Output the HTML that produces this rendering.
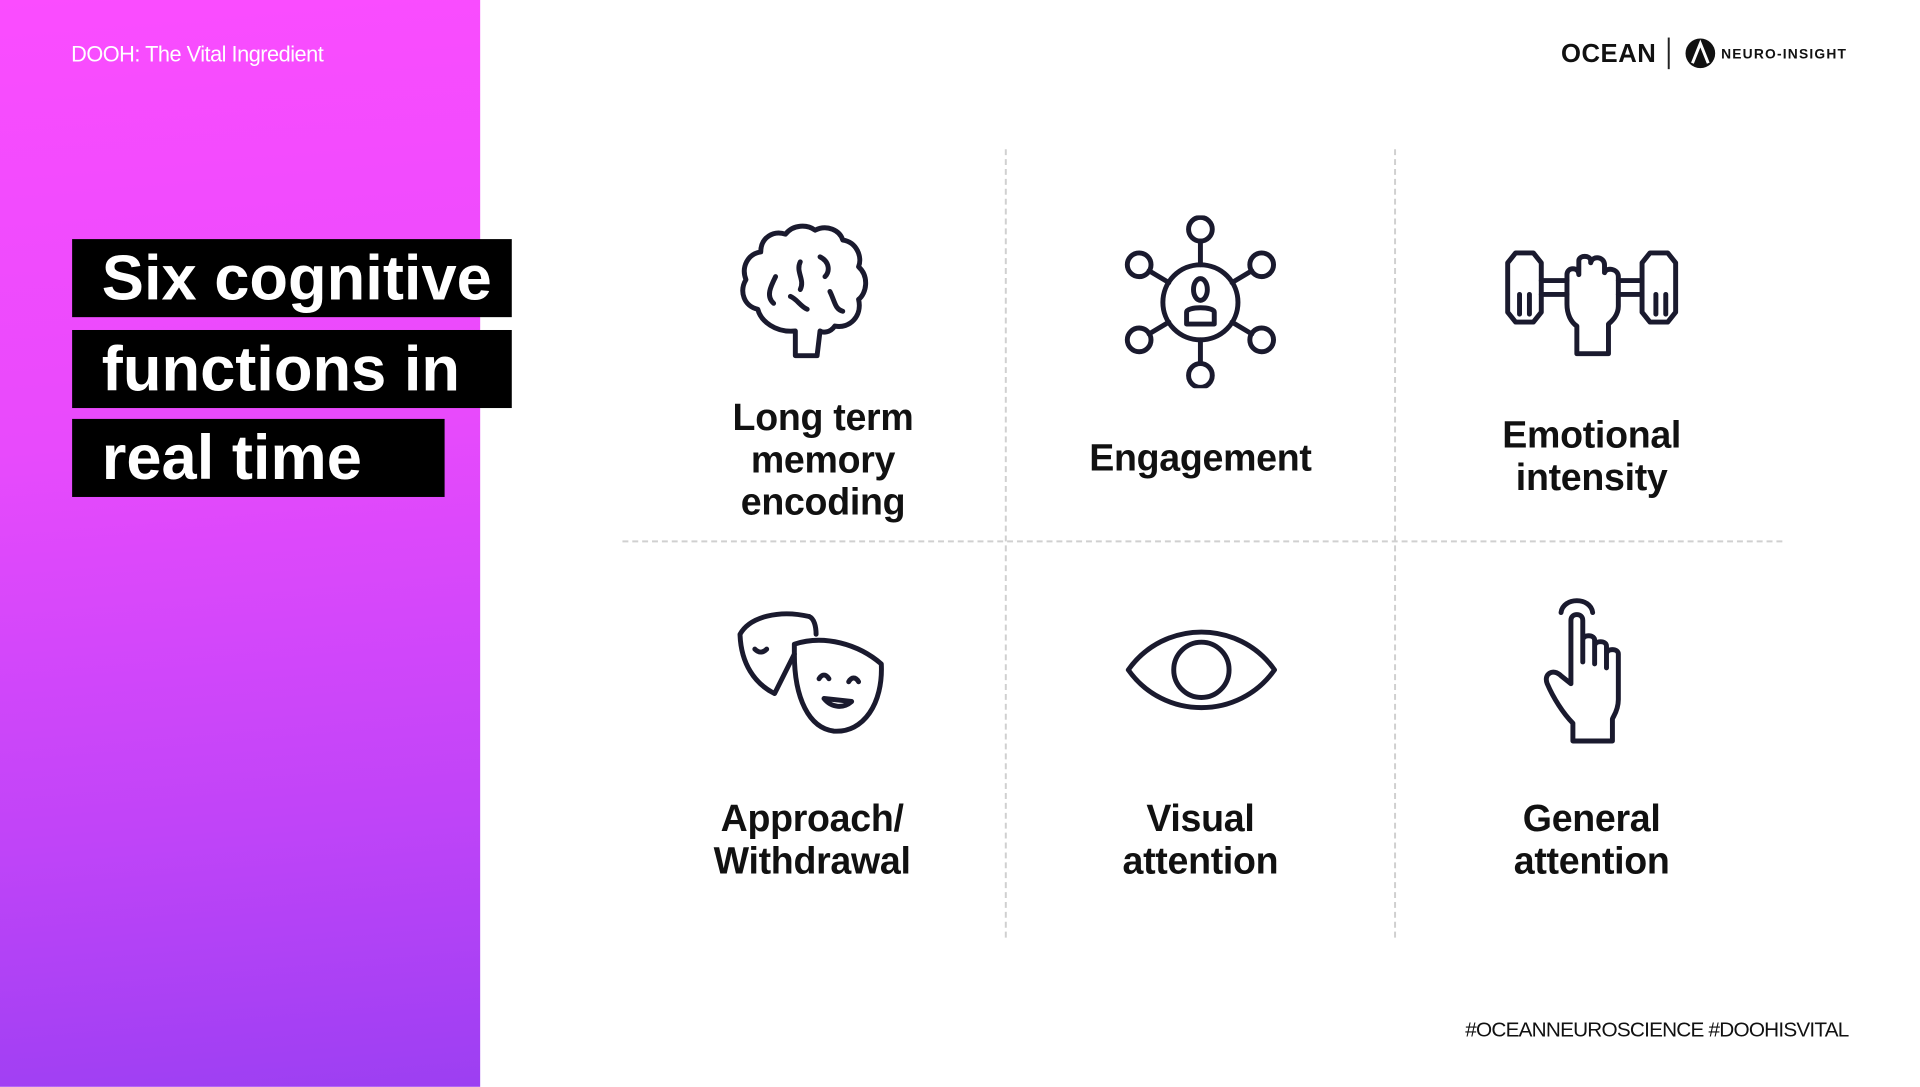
<!DOCTYPE html>
<html><head><meta charset="utf-8"><style>
body{margin:0;width:1920px;height:1080px;overflow:hidden;background:#fff;font-family:"Liberation Sans",sans-serif;position:relative}
#w{position:absolute;left:0;top:0;width:1944px;height:1100px;transform:scale(0.988);transform-origin:0 0}
.left{position:absolute;left:0;top:0;width:486px;height:1100px;background:linear-gradient(175deg,#fb4cff 0%,#e84afc 40%,#c044f8 75%,#9c3ff2 100%)}
.tag{position:absolute;left:72px;top:42px;color:#fff;font-size:22px;letter-spacing:-0.5px}
.tb{position:absolute;left:73px;background:#000;color:#fff;font-weight:bold;font-size:64px;line-height:79px;padding-left:30px;box-sizing:border-box;letter-spacing:0px;white-space:nowrap}
.vl{position:absolute;top:151px;height:798px;border-left:2px dashed #d0d0d0}
.hl{position:absolute;top:547px;left:630px;width:1174px;border-top:2px dashed #d0d0d0}
.lab{position:absolute;width:360px;text-align:center;font-weight:bold;font-size:38px;line-height:43px;color:#111;letter-spacing:-0.3px}
svg{position:absolute}
.ic{fill:none;stroke:#1a1a2e;stroke-width:5;stroke-linecap:round;stroke-linejoin:round}
</style></head><body><div id="w">
<div class="left"></div>
<div class="tag">DOOH: The Vital Ingredient</div>
<div class="tb" style="top:242px;width:445px;height:79px">Six cognitive</div>
<div class="tb" style="top:334px;width:445px;height:79px">functions in</div>
<div class="tb" style="top:424px;width:377px;height:79px">real time</div>

<div style="position:absolute;left:1580px;top:39px;font-weight:bold;font-size:26px;color:#111;letter-spacing:0.5px">OCEAN</div>
<div style="position:absolute;left:1688px;top:38px;height:32px;border-left:2px solid #222"></div>
<svg style="left:1705px;top:38px" width="32" height="32"><circle cx="16" cy="16" r="15" fill="#111"/><path d="M8 26 L16 6 L24 26" stroke="#fff" stroke-width="3" fill="none"/></svg>
<div style="position:absolute;left:1742px;top:46px;font-weight:bold;font-size:14px;color:#111;letter-spacing:1.2px">NEURO-INSIGHT</div>

<div class="vl" style="left:1017px"></div>
<div class="vl" style="left:1411px"></div>
<div class="hl"></div>

<svg style="left:745px;top:225px" width="155" height="145" viewBox="0 0 155 145"><g class="ic">
<path d="M60 135 L60 110 C40 112 25 100 22 88 C8 85 3 70 10 58 C5 45 12 32 25 30 C25 15 38 8 50 12 C58 2 72 2 80 8 C92 2 105 8 108 18 C122 20 128 35 124 45 C135 55 132 72 124 78 C128 95 115 108 100 105 C95 112 88 112 85 110 L82 135 Z"/>
<path d="M40 55 C35 65 30 75 38 82"/><path d="M65 40 C60 50 70 58 65 68"/><path d="M85 35 C95 40 95 50 90 55"/><path d="M55 75 C62 78 65 85 72 88"/><path d="M95 70 C100 80 100 88 108 90"/></g></svg>
<svg style="left:1135px;top:218px" width="160" height="175" viewBox="0 0 160 175"><g class="ic">
<circle cx="80" cy="88" r="38"/><circle cx="80" cy="14" r="12"/><circle cx="80" cy="162" r="12"/>
<circle cx="18" cy="50" r="12"/><circle cx="142" cy="50" r="12"/><circle cx="18" cy="126" r="12"/><circle cx="142" cy="126" r="12"/>
<path d="M80 26V50M80 126V150M28 56L48 68M132 56L112 68M28 120L48 108M132 120L112 108"/>
<ellipse cx="80" cy="75" rx="7" ry="11"/><path d="M66 110 L66 98 C66 92 94 92 94 98 L94 110 Z"/></g></svg>
<svg style="left:1520px;top:248px" width="184" height="115" viewBox="0 0 184 115"><g class="ic">
<path d="M14 8H32L40 18V68L32 78H14L6 68V18Z"/><path d="M150 8H168L176 18V68L168 78H150L142 68V18Z"/>
<path d="M40 36H66M40 50H66M118 36H142M118 50H142"/>
<path d="M18 50V70M28 50V70M156 50V70M166 50V70"/>
<path d="M66 60 L66 30 C66 22 78 22 78 30 L78 16 C78 10 90 10 90 16 L90 18 C92 10 104 12 104 20 L104 28 C106 22 118 24 118 32 L118 62 C118 72 110 78 108 80 L108 110 L76 110 L76 82 C70 78 66 70 66 60 Z"/></g></svg>
<svg style="left:744px;top:612px" width="155" height="135" viewBox="0 0 155 135"><g class="ic">
<path d="M60 50 C50 70 45 80 40 90 C20 80 6 60 5 30 C15 12 45 5 75 12"/>
<path d="M75 12 C80 14 82 22 82 30"/>
<path d="M60 40 C90 30 125 40 148 60 C150 100 130 130 100 128 C75 125 60 95 60 50 Z"/>
<path d="M20 45 C24 49 28 49 32 45"/><path d="M85 75 C88 70 92 70 95 75"/><path d="M115 78 C118 73 122 73 125 78"/>
<path d="M90 95 C98 105 110 105 118 98 Z"/></g></svg>
<svg style="left:1138px;top:635px" width="156" height="86" viewBox="0 0 156 86"><g class="ic">
<path d="M4 43 C40 -8 116 -8 152 43 C116 94 40 94 4 43 Z"/><circle cx="78" cy="43" r="28"/></g></svg>
<svg style="left:1560px;top:600px" width="102" height="158" viewBox="0 0 102 158"><g class="ic">
<path d="M20 20 C22 4 50 4 52 20"/>
<path d="M30 92 L30 28 C30 20 42 20 42 28 L42 70 L42 48 C42 42 54 42 54 48 L54 72 L54 54 C54 48 66 48 66 54 L66 76 L66 62 C66 56 78 56 78 62 L78 108 C78 120 72 126 72 128 L72 150 L32 150 L32 132 C22 122 12 106 6 92 C2 82 12 76 20 84 Z"/></g></svg>

<div class="lab" style="left:653px;top:402px">Long term<br>memory<br>encoding</div>
<div class="lab" style="left:1035px;top:443px">Engagement</div>
<div class="lab" style="left:1431px;top:420px">Emotional<br>intensity</div>
<div class="lab" style="left:642px;top:808px">Approach/<br>Withdrawal</div>
<div class="lab" style="left:1035px;top:808px">Visual<br>attention</div>
<div class="lab" style="left:1431px;top:808px">General<br>attention</div>

<div style="position:absolute;right:73px;top:1031px;font-size:21px;color:#111;letter-spacing:-0.8px">#OCEANNEUROSCIENCE #DOOHISVITAL</div>
</div></body></html>
